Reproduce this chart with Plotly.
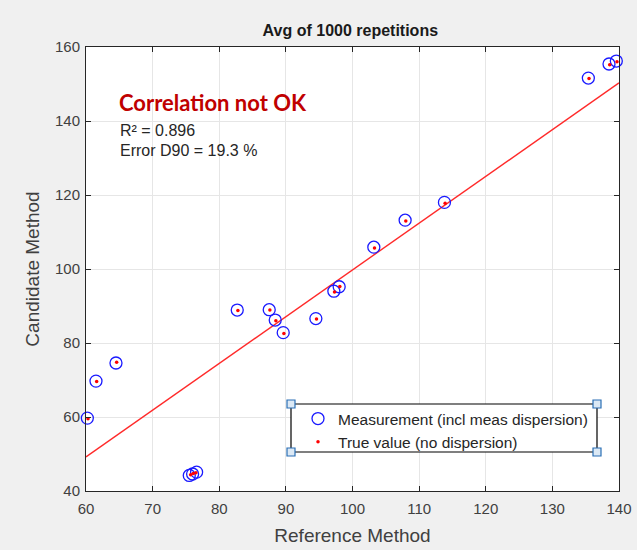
import plotly.graph_objects as go

# Measured values (blue open circles)
meas_x = [60.2, 61.5, 64.5, 75.5, 76.0, 76.6, 82.7, 87.5, 88.4, 89.6, 94.5, 97.2, 98.0, 103.2, 107.9, 113.8, 135.4, 138.5, 139.6]
meas_y = [59.7, 69.7, 74.6, 44.2, 44.6, 45.1, 88.9, 89.0, 86.2, 82.8, 86.6, 94.0, 95.2, 105.9, 113.2, 118.0, 151.6, 155.4, 156.2]
# True values (red dots)
true_x = [60.3, 61.6, 64.6, 75.7, 76.1, 76.5, 82.8, 87.6, 88.5, 89.7, 94.6, 97.3, 98.1, 103.3, 108.0, 113.9, 135.5, 138.6, 139.7]
true_y = [59.5, 69.6, 74.8, 44.4, 44.7, 44.9, 88.8, 88.9, 86.0, 82.6, 86.5, 93.8, 95.3, 105.7, 113.0, 117.8, 151.5, 155.2, 156.0]
# Fit line end points
fit_x = [60, 140]
fit_y = [49.2, 150.3]

x_ticks = [60, 70, 80, 90, 100, 110, 120, 130, 140]
y_ticks = [40, 60, 80, 100, 120, 140, 160]

title_text = "Avg of 1000 repetitions"
status_text = "Correlation not OK"
r2_text = "R² = 0.896"
err_text = "Error D90 = 19.3 %"

FONT = "Liberation Sans, Arial, Helvetica, sans-serif"
TXT = "#262626"

fig = go.Figure()
fig.add_trace(go.Scatter(x=fit_x, y=fit_y, mode="lines",
                         line=dict(color="#ff2a2a", width=1.4), showlegend=False,
                         hoverinfo="skip"))
fig.add_trace(go.Scatter(x=meas_x, y=meas_y, mode="markers",
                         name="Measurement (incl meas dispersion)",
                         marker=dict(symbol="circle-open", size=12, color="#1a1aff",
                                     line=dict(width=1.3)),
                         cliponaxis=False))
fig.add_trace(go.Scatter(x=true_x, y=true_y, mode="markers",
                         name="True value (no dispersion)",
                         marker=dict(symbol="circle", size=3.5, color="#ff0000"),
                         cliponaxis=False))

axis_common = dict(showgrid=True, gridcolor="#e6e6e6", gridwidth=1,
                   showline=True, linecolor=TXT, linewidth=1, mirror="ticks",
                   ticks="inside", ticklen=5, tickcolor=TXT,
                   tickfont=dict(family=FONT, size=15, color="#404040"),
                   zeroline=False, automargin=False)

fig.update_layout(
    width=637, height=550,
    paper_bgcolor="#f0f0f0", plot_bgcolor="white",
    margin=dict(l=86, r=18, t=47, b=59),
    title=dict(text="<b>" + title_text + "</b>", x=0.55, xanchor="center",
               y=1 - 30 / 550, yanchor="middle",
               font=dict(family=FONT, size=16, color="#1a1a1a")),
    xaxis=dict(range=[60, 140], tickvals=x_ticks, ticklabelstandoff=4,
               title=dict(text="Reference Method", standoff=12,
                          font=dict(family=FONT, size=19, color="#404040")),
               **axis_common),
    yaxis=dict(range=[40, 160], tickvals=y_ticks, ticklabelstandoff=2,
               title=dict(text="Candidate Method", standoff=10,
                          font=dict(family=FONT, size=19, color="#404040")),
               **axis_common),
    legend=dict(x=(298 - 86) / 533, y=(491 - 402) / 444, xanchor="left", yanchor="top",
                bgcolor="rgba(0,0,0,0)", borderwidth=0,
                font=dict(family=FONT, size=15.5, color=TXT),
                tracegroupgap=0),
    showlegend=True,
)

fig.add_annotation(x=64.6, y=145.0, xref="x", yref="y", xanchor="left", yanchor="middle",
                   text="<b>" + status_text + "</b>", showarrow=False,
                   font=dict(family="Lato, Open Sans, sans-serif", size=22, color="#c00000"))
fig.add_annotation(x=64.8, y=137.3, xref="x", yref="y", xanchor="left", yanchor="middle",
                   text=r2_text, showarrow=False,
                   font=dict(family=FONT, size=16, color=TXT))
fig.add_annotation(x=64.8, y=131.9, xref="x", yref="y", xanchor="left", yanchor="middle",
                   text=err_text, showarrow=False,
                   font=dict(family=FONT, size=16, color=TXT))

# legend box
fig.add_shape(type="rect", xref="paper", yref="paper", layer="above",
              x0=(291 - 86) / 533, x1=(597 - 86) / 533,
              y0=(491 - 452) / 444, y1=(491 - 404) / 444,
              fillcolor="white", line=dict(color="#000000", width=1.2))

# legend selection handles
for px, py in [(291, 404), (597, 404), (291, 452), (597, 452)]:
    fig.add_shape(type="rect", xref="paper", yref="paper", layer="above",
                  x0=(px - 4 - 86) / 533, x1=(px + 4 - 86) / 533,
                  y0=(491 - py - 4) / 444, y1=(491 - py + 4) / 444,
                  fillcolor="#dce9f5", line=dict(color="#2a6fb5", width=1.2))

fig.write_html("out.html", config={"displayModeBar": False},
               post_script="document.body.style.margin='0';document.body.style.background='#f0f0f0';")
